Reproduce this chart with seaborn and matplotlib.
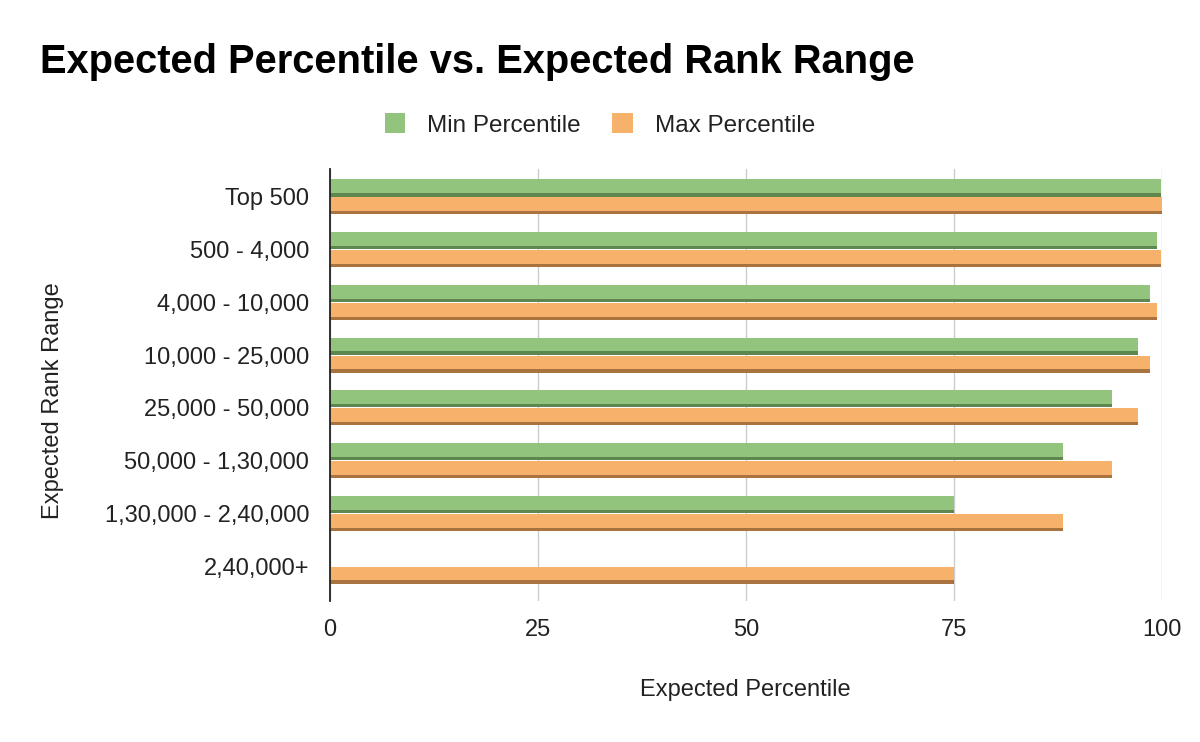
import matplotlib
matplotlib.use("Agg")
import matplotlib.pyplot as plt
import seaborn as sns
import pandas as pd
from matplotlib.patches import Rectangle, Patch

categories = ["Top 500", "500 - 4,000", "4,000 - 10,000", "10,000 - 25,000",
              "25,000 - 50,000", "50,000 - 1,30,000", "1,30,000 - 2,40,000", "2,40,000+"]
min_percentile = [99.9, 99.4, 98.6, 97.1, 94.0, 88.1, 75.0, 0.0]
max_percentile = [100.0, 99.9, 99.4, 98.6, 97.1, 94.0, 88.1, 75.0]
series_names = ["Min Percentile", "Max Percentile"]
x_ticks = [0, 25, 50, 75, 100]

colors = {"Min Percentile": "#93c47d", "Max Percentile": "#f6b26b"}
dark = {"Min Percentile": "#5e8750", "Max Percentile": "#a8733f"}

df = pd.DataFrame({
    "Expected Rank Range": categories * 2,
    "Expected Percentile": min_percentile + max_percentile,
    "Series": [series_names[0]] * len(categories) + [series_names[1]] * len(categories),
})

sns.set_theme(style="white")
plt.rcParams["font.family"] = ["Liberation Sans", "DejaVu Sans"]

fig = plt.figure(figsize=(12, 7.42), dpi=100)
ax = fig.add_axes([330 / 1200, 1 - 601 / 742, (1162 - 330) / 1200, (601 - 169) / 742])

sns.barplot(data=df, y="Expected Rank Range", x="Expected Percentile", hue="Series",
            orient="h", palette=colors, width=0.68, dodge=True, ax=ax,
            saturation=1, legend=False, linewidth=0, gap=0.05)

# darker bottom strip for a shaded look
for container, name in zip(ax.containers, series_names):
    for p in container.patches:
        h = p.get_height()
        ax.add_patch(Rectangle((p.get_x(), p.get_y() + h * 0.8), p.get_width(), h * 0.2,
                               facecolor=dark[name], edgecolor="none", zorder=p.get_zorder() + 0.1))

ax.set_xlim(0, 100)
ax.set_ylim(7.66, -0.53)
ax.set_xticks(x_ticks)
ax.set_xticklabels([str(t) for t in x_ticks])
ax.grid(axis="x", color="#cccccc", linewidth=1)
ax.grid(axis="y", visible=False)
ax.set_axisbelow(True)
for s in ["top", "right", "bottom"]:
    ax.spines[s].set_visible(False)
ax.spines["left"].set_color("#222222")
ax.spines["left"].set_linewidth(1.3)
ax.tick_params(axis="x", length=0, pad=13, labelsize=17, labelcolor="#222222")
ax.tick_params(axis="y", length=0, pad=15, labelsize=17, labelcolor="#222222")
ax.set_xlabel("")
ax.set_ylabel("")

fig.text(745 / 1200, 1 - 690 / 742, "Expected Percentile", ha="center", va="center",
         fontsize=17, color="#222222")
fig.text(53 / 1200, 1 - 401 / 742, "Expected Rank Range", ha="center", va="center",
         rotation=90, fontsize=17, color="#222222")
fig.text(40 / 1200, 1 - 62 / 742, "Expected Percentile vs. Expected Rank Range",
         ha="left", va="center", fontsize=28.7, fontweight="bold", color="#000000")

handles = [Patch(facecolor=colors[n], edgecolor="none") for n in series_names]
fig.legend(handles, series_names, loc="center", bbox_to_anchor=(600 / 1200, 1 - 125 / 742),
           ncol=2, frameon=False, fontsize=17.5, handlelength=0.85, handleheight=0.85,
           handletextpad=0.9, columnspacing=1.3, labelcolor="#222222")

fig.savefig("out.png", dpi=100)
